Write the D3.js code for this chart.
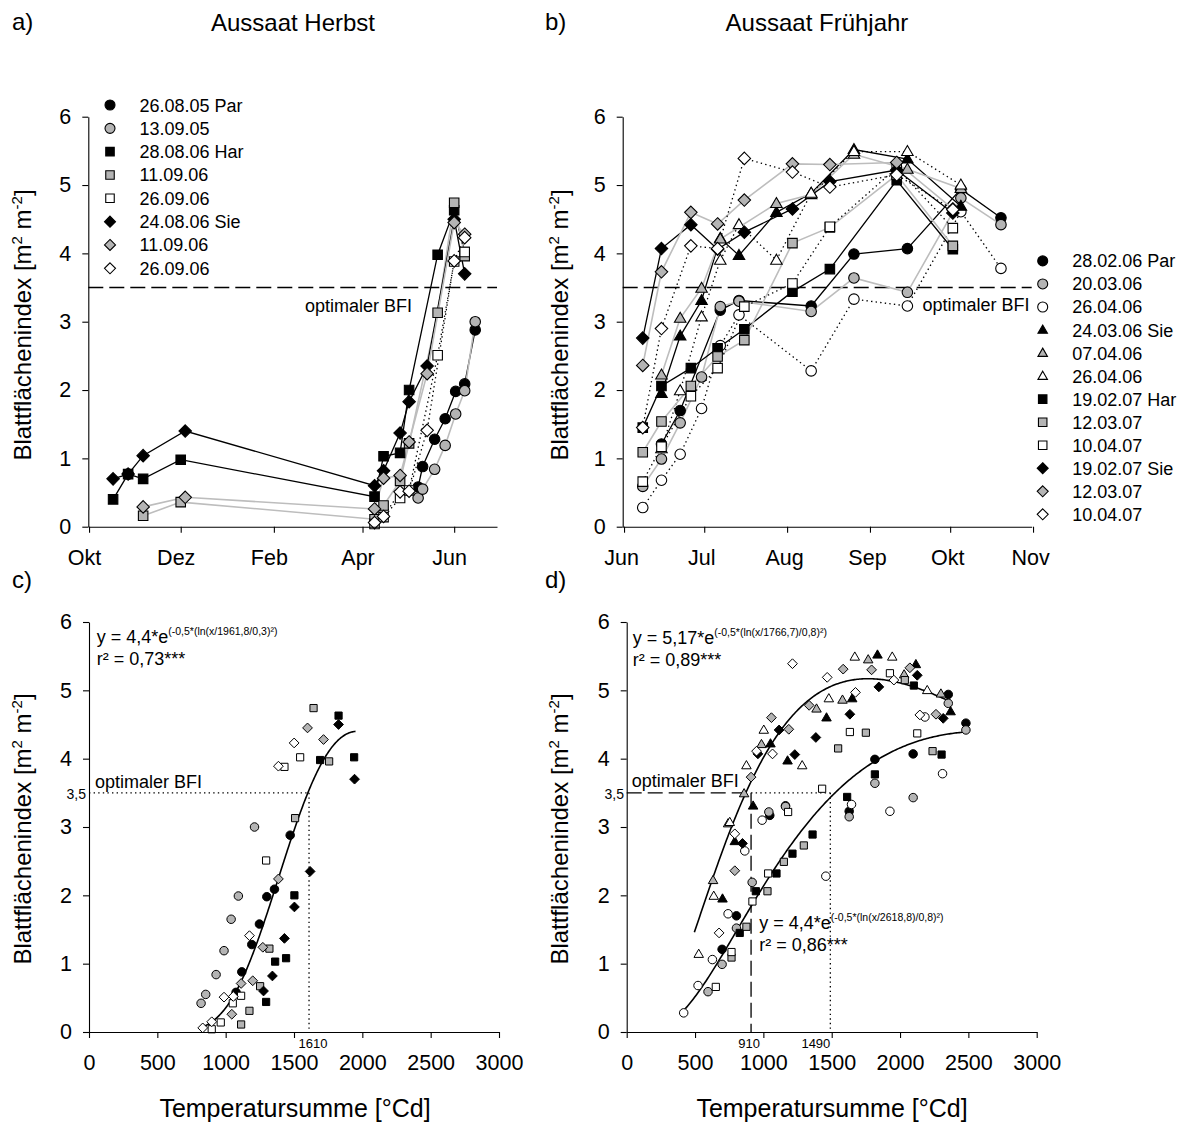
<!DOCTYPE html>
<html>
<head>
<meta charset="utf-8">
<script src="https://cdn.jsdelivr.net/npm/d3@7"></script>
<style>
  body { margin: 0; background: #fff; }
  svg { display: block; }
</style>
</head>
<body>
<svg id="chart" width="1183" height="1124"></svg>
<script>
// ---------- Herbstaussaat (a: Zeitverlauf, c: Temperatursumme) ----------
const herbstLabels = ["26.08.05 Par", "13.09.05", "28.08.06 Har", "11.09.06", "26.09.06", "24.08.06 Sie", "11.09.06", "26.09.06"];
const herbstShape  = ["circle", "circle", "square", "square", "square", "diamond", "diamond", "diamond"];
const herbstTone   = ["black", "gray", "black", "gray", "white", "black", "gray", "white"];
// Messtermine (MM-DD); null trennt nicht verbundene Abschnitte
const herbstDates = [
  ["10-27", null, "05-08", "05-11", "05-19", "05-26", "06-02", "06-08", "06-15"],
  ["05-08", "05-11", "05-19", "05-26", "06-02", "06-08", "06-15"],
  ["10-17", "10-27", "11-06", "12-01", "04-09", "04-15", "04-26", "05-02", "05-21", "06-01", "06-08"],
  ["11-06", "12-01", "04-09", "04-15", "04-26", "05-02", "05-21", "06-01", "06-08"],
  ["04-09", "04-15", "04-26", "05-02", "05-21", "06-01", "06-08"],
  ["10-17", "10-27", "11-06", "12-04", "04-09", "04-15", "04-26", "05-02", "05-14", "06-01", "06-08"],
  ["11-06", "12-04", "04-09", "04-15", "04-26", "05-02", "05-14", "06-01", "06-08"],
  ["04-09", "04-15", "04-26", "05-02", "05-14", "06-01", "06-08"]
];
const herbstLAI = [
  [0.77, null, 0.58, 0.88, 1.28, 1.58, 1.98, 2.09, 2.88],
  [0.42, 0.55, 0.84, 1.19, 1.65, 1.99, 3.00],
  [0.40, 0.77, 0.70, 0.98, 0.44, 1.03, 1.08, 2.00, 3.98, 4.63, 4.02],
  [0.16, 0.36, 0.11, 0.31, 0.67, 1.22, 3.13, 4.74, 3.96],
  [0.04, 0.14, 0.42, 0.53, 2.51, 3.88, 4.02],
  [0.70, 0.77, 1.04, 1.40, 0.60, 0.82, 1.37, 1.83, 2.35, 4.50, 3.70],
  [0.29, 0.43, 0.26, 0.71, 0.75, 1.24, 2.24, 4.45, 4.28],
  [0.06, 0.15, 0.51, 0.52, 1.41, 3.89, 4.23]
];
const herbstTsum = [
  [null, null, 1076, 1118, 1191, 1247, 1301, 1357, 1472],
  [820, 854, 930, 988, 1040, 1093, 1211],
  [null, null, null, null, 1296, 1362, 1442, 1503, 1691, 1826, 1940],
  [null, null, 1113, 1174, 1252, 1320, 1508, 1643, 1757],
  [898, 964, 1052, 1113, 1296, 1430, 1545],
  [null, null, null, null, 1277, 1342, 1430, 1503, 1618, 1826, 1943],
  [null, null, 1045, 1113, 1198, 1272, 1386, 1599, 1716],
  [832, 898, 988, 1056, 1174, 1386, 1501]
];

// ---------- Frühjahrsaussaat (b: Zeitverlauf, d: Temperatursumme) ----------
const fruehLabels = ["28.02.06 Par", "20.03.06", "26.04.06", "24.03.06 Sie", "07.04.06", "26.04.06",
                     "19.02.07 Har", "12.03.07", "10.04.07", "19.02.07 Sie", "12.03.07", "10.04.07"];
const fruehShape = ["circle", "circle", "circle", "triangle", "triangle", "triangle",
                    "square", "square", "square", "diamond", "diamond", "diamond"];
const fruehTone  = ["black", "gray", "white", "black", "gray", "white",
                    "black", "gray", "white", "black", "gray", "white"];
const termine06  = ["06-08", "06-15", "06-22", "06-30", "07-07", "07-14", "08-10", "08-26", "09-15", "10-05", "10-20"];
const termine06b = ["06-15", "06-22", "06-30", "07-07", "07-14", "07-28", "08-10", "08-26", "09-15", "10-05"];
const termine07  = ["06-08", "06-15", "06-26", "07-06", "07-16", "08-03", "08-17", "09-11", "10-02"];
const fruehDates = [
  ["06-15", "06-22", "07-07", "07-14", "08-10", "08-26", "09-15", "10-05", "10-20"],
  termine06, termine06,
  termine06b,
  ["06-15", "06-22", "06-30", "07-07", "07-28", "08-10", "08-26", "09-15", "10-05"],
  termine06b,
  termine07, termine07, termine07, termine07, termine07, termine07
];
const fruehLAI = [
  [1.21, 1.70, 3.17, 3.31, 3.23, 3.99, 4.07, 4.94, 4.52],
  [0.59, 0.99, 1.52, 2.19, 3.22, 3.30, 3.15, 3.64, 3.43, 4.81, 4.42],
  [0.28, 0.68, 1.06, 1.73, 2.65, 3.10, 2.28, 3.33, 3.23, 4.61, 3.78],
  [1.95, 2.79, 3.31, 4.22, 3.97, 4.60, 4.88, 5.52, 5.38, 4.69],
  [2.22, 3.05, 3.49, 4.21, 4.73, 4.86, 5.45, 5.23, 4.95],
  [1.14, 1.99, 3.07, 3.90, 4.42, 3.90, 4.88, 5.49, 5.49, 5.00],
  [1.45, 2.06, 2.32, 2.61, 2.89, 3.44, 3.77, 5.07, 4.06],
  [1.09, 1.54, 2.06, 2.49, 2.73, 4.15, 4.38, 5.15, 4.11],
  [0.66, 1.17, 1.91, 2.32, 3.22, 3.56, 4.39, 5.25, 4.37],
  [2.76, 4.07, 4.42, 4.06, 4.31, 4.65, 5.05, 5.22, 4.59],
  [2.36, 3.73, 4.60, 4.43, 4.78, 5.31, 5.30, 5.33, 4.65],
  [1.45, 2.90, 4.11, 4.07, 5.39, 5.19, 4.97, 5.15, 4.64]
];
const fruehTsum = [
  [698, 803, 1047, 1162, 1628, 1816, 2096, 2353, 2482],
  [595, 698, 803, 918, 1040, 1162, 1628, 1816, 2096, 2353, 2482],
  [417, 522, 627, 742, 864, 991, 1457, 1645, 1926, 2182, 2311],
  [701, 791, 925, 1052, 1177, 1462, 1650, 1835, 2116, 2370],
  [632, 742, 859, 986, 1389, 1579, 1767, 2030, 2299],
  [527, 637, 754, 876, 1003, 1284, 1479, 1669, 1943, 2199],
  [827, 945, 1096, 1213, 1360, 1613, 1816, 2101, 2304],
  [767, 876, 1030, 1150, 1296, 1547, 1750, 2035, 2238],
  [652, 767, 920, 1035, 1181, 1430, 1633, 1926, 2126],
  [847, 960, 1115, 1230, 1384, 1633, 1845, 2126, 2316],
  [791, 910, 1059, 1186, 1335, 1584, 1792, 2072, 2263],
  [676, 791, 950, 1067, 1213, 1467, 1674, 1955, 2145]
];

// Achsen
const monthTicksA = ["10-01", "12-01", "02-01", "04-01", "06-01"];
const monthNamesA = ["Okt", "Dez", "Feb", "Apr", "Jun"];
const monthTicksB = ["06-01", "07-01", "08-01", "09-01", "10-01", "11-01"];
const monthNamesB = ["Jun", "Jul", "Aug", "Sep", "Okt", "Nov"];
const laiTicks = [0, 1, 2, 3, 4, 5, 6];
const tsumTicks = [0, 500, 1000, 1500, 2000, 2500, 3000];

// Optimaler Blattflächenindex und Schwellen-Temperatursummen
const optLAI = 3.5;
const tsumOptHerbst = 1610;
const tsumOptFrueh = [910, 1490];

// Anpassungskurven: y = a * exp(-0.5 * (ln(x/x0)/b)^2)
const fitHerbst = { a: 4.4, x0: 1961.8, b: 0.3, from: 830, to: 1950 };
const fitFrueh1 = { a: 5.17, x0: 1766.7, b: 0.8, from: 495, to: 2370 };
const fitFrueh2 = { a: 4.4, x0: 2618.8, b: 0.8, from: 415, to: 2485 };

// ---------- Darstellung ----------
const FONT = '"Liberation Sans", Arial, Helvetica, sans-serif';
const GRAY_FILL = "#b4b4b4";
const GRAY_LINE = "#bdbdbd";
const svg = d3.select("#chart").attr("font-family", FONT);

const parseA = s => { if (!s) return null; const [m, d] = s.split("-").map(Number); return new Date(m >= 8 ? 2000 : 2001, m - 1, d, 12); };
const parseB = s => { const [m, d] = s.split("-").map(Number); return new Date(2001, m - 1, d, 12); };
const fillOf = t => t === "black" ? "#000" : t === "gray" ? GRAY_FILL : "#fff";

function shapePath(shape, s) {
  const r = s / 2;
  if (shape === "circle") return d3.symbol(d3.symbolCircle, Math.PI * r * r)();
  if (shape === "square") return `M${-r},${-r}h${s}v${s}h${-s}Z`;
  if (shape === "diamond") { const h = r * 1.25; return `M0,${-h}L${h},0L0,${h}L${-h},0Z`; }
  const hh = s * 0.866;
  return `M0,${-hh * 0.6}L${r},${hh * 0.4}L${-r},${hh * 0.4}Z`;
}
const sizeBig   = { circle: 10.5, square: 9.5, diamond: 10, triangle: 11.5 };
const sizeSmall = { circle: 8.5, square: 7.2, diamond: 7.8, triangle: 9.5 };
const sizeLeg   = { circle: 10, square: 8.5, diamond: 8.8, triangle: 9.5 };

function lineStyle(sel, tone) {
  if (tone === "black") sel.attr("stroke", "#000").attr("stroke-width", 1.3);
  else if (tone === "gray") sel.attr("stroke", GRAY_LINE).attr("stroke-width", 1.6);
  else sel.attr("stroke", "#000").attr("stroke-width", 1.3).attr("stroke-dasharray", "1.4,3.2");
}

// Scales
const xA = d3.scaleTime().domain([new Date(2000, 9, 1), new Date(2001, 5, 30)]).range([88.3, 497]);
const xB = d3.scaleTime().domain([new Date(2001, 5, 1), new Date(2001, 10, 1)]).range([622.7, 1031.7]);
const yTop = d3.scaleLinear().domain([0, 6]).range([526.7, 116.7]);
const xC = d3.scaleLinear().domain([0, 3000]).range([89, 499]);
const xD = d3.scaleLinear().domain([0, 3000]).range([626.7, 1036.7]);
const yBot = d3.scaleLinear().domain([0, 6]).range([1032, 622]);

function styleAxis(g, fs) {
  g.attr("font-size", fs).attr("font-family", FONT);
  g.selectAll("path.domain").attr("stroke", "#000").attr("stroke-width", 1.1);
  g.selectAll(".tick line").attr("stroke", "#000").attr("stroke-width", 1.1);
  g.selectAll(".tick text").attr("fill", "#000");
}
function leftAxis(x0, y) {
  const g = svg.append("g").attr("transform", `translate(${x0},0)`)
    .call(d3.axisLeft(y).tickValues(laiTicks).tickFormat(d3.format("d")).tickSize(6).tickSizeOuter(0).tickPadding(11));
  styleAxis(g, 21.5);
}
function bottomAxis(y0, x, vals, fmt, pad, dx) {
  const g = svg.append("g").attr("transform", `translate(0,${y0})`)
    .call(d3.axisBottom(x).tickValues(vals).tickFormat(fmt).tickSize(6).tickSizeOuter(0).tickPadding(pad));
  styleAxis(g, 21.5);
  g.selectAll(".tick text").attr("dx", dx);
}

// Datensätze je Serie aufbauen
function seriesA(i) {
  return herbstDates[i].map((d, j) => ({ date: parseA(d), v: herbstLAI[i][j], t: herbstTsum[i][j] }));
}
function seriesB(i) {
  return fruehDates[i].map((d, j) => ({ date: parseB(d), v: fruehLAI[i][j], t: fruehTsum[i][j] }));
}

function drawTimePanel(x, y, n, getSeries, shapes, tones) {
  const line = d3.line().defined(d => d.v != null).x(d => x(d.date)).y(d => y(d.v));
  const all = d3.range(n).map(getSeries);
  const gl = svg.append("g");
  all.forEach((s, i) => {
    gl.append("path").datum(s).attr("d", line).attr("fill", "none").call(lineStyle, tones[i]);
  });
  const gp = svg.append("g");
  all.forEach((s, i) => {
    gp.selectAll(null).data(s.filter(d => d.v != null)).join("path")
      .attr("transform", d => `translate(${x(d.date)},${y(d.v)})`)
      .attr("d", shapePath(shapes[i], sizeBig[shapes[i]]))
      .attr("fill", fillOf(tones[i])).attr("stroke", "#000").attr("stroke-width", 1.1);
  });
}

function drawScatter(x, y, n, getSeries, shapes, tones) {
  const gp = svg.append("g");
  d3.range(n).forEach(i => {
    gp.selectAll(null).data(getSeries(i).filter(d => d.t != null && d.v != null)).join("path")
      .attr("transform", d => `translate(${x(d.t)},${y(d.v)})`)
      .attr("d", shapePath(shapes[i], sizeSmall[shapes[i]]))
      .attr("fill", fillOf(tones[i])).attr("stroke", "#000").attr("stroke-width", 1);
  });
}

function drawFit(x, y, f) {
  const pts = d3.range(0, 201).map(k => {
    const t = f.from + (f.to - f.from) * k / 200;
    return [t, f.a * Math.exp(-0.5 * Math.pow(Math.log(t / f.x0) / f.b, 2))];
  });
  svg.append("path").datum(pts)
    .attr("d", d3.line().x(d => x(d[0])).y(d => y(d[1])))
    .attr("fill", "none").attr("stroke", "#000").attr("stroke-width", 1.6);
}

function legend(x0, y0, step, labels, shapes, tones) {
  const g = svg.append("g");
  labels.forEach((lab, i) => {
    const yy = y0 + i * step;
    g.append("path").attr("transform", `translate(${x0},${yy})`)
      .attr("d", shapePath(shapes[i], sizeLeg[shapes[i]]))
      .attr("fill", fillOf(tones[i])).attr("stroke", "#000").attr("stroke-width", 1.1);
    g.append("text").attr("x", x0 + 29.5).attr("y", yy + 6.5).attr("font-size", 18).text(lab);
  });
}

function yTitle(xb, yc) {
  const t = svg.append("text").attr("transform", `translate(${xb},${yc}) rotate(-90)`)
    .attr("text-anchor", "middle").attr("font-size", 24);
  t.append("tspan").text("Blattflächenindex [m");
  t.append("tspan").attr("font-size", 15).attr("dy", -9).text("2");
  t.append("tspan").attr("dy", 9).text(" m");
  t.append("tspan").attr("font-size", 15).attr("dy", -9).text("-2");
  t.append("tspan").attr("dy", 9).text("]");
}

function equation(x0, yb, main, sup, r2) {
  const t = svg.append("text").attr("x", x0).attr("y", yb).attr("font-size", 18);
  t.append("tspan").text(main);
  t.append("tspan").attr("font-size", 10.5).attr("dy", -8).text(sup);
  svg.append("text").attr("x", x0).attr("y", yb + 22).attr("font-size", 18).text(r2);
}

function txt(x0, y0, s, fs, anchor) {
  return svg.append("text").attr("x", x0).attr("y", y0).attr("font-size", fs)
    .attr("text-anchor", anchor || "start").text(s);
}

// ---------- Panel a ----------
svg.append("line").attr("x1", xA.range()[0]).attr("x2", xA.range()[1])
  .attr("y1", yTop(optLAI)).attr("y2", yTop(optLAI))
  .attr("stroke", "#000").attr("stroke-width", 1.4).attr("stroke-dasharray", "15,6");
drawTimePanel(xA, yTop, herbstLabels.length, seriesA, herbstShape, herbstTone);
leftAxis(xA.range()[0], yTop);
bottomAxis(yTop.range()[0], xA, monthTicksA.map(parseA), (d, i) => monthNamesA[i], 17, -5);
legend(110, 105, 23.33, herbstLabels, herbstShape, herbstTone);
txt(305, 312, "optimaler BFI", 18);

// ---------- Panel b ----------
svg.append("line").attr("x1", xB.range()[0]).attr("x2", xB.range()[1])
  .attr("y1", yTop(optLAI)).attr("y2", yTop(optLAI))
  .attr("stroke", "#000").attr("stroke-width", 1.4).attr("stroke-dasharray", "15,6");
drawTimePanel(xB, yTop, fruehLabels.length, seriesB, fruehShape, fruehTone);
leftAxis(xB.range()[0], yTop);
bottomAxis(yTop.range()[0], xB, monthTicksB.map(parseB), (d, i) => monthNamesB[i], 17, -3);
legend(1042.7, 260.9, 23.04, fruehLabels, fruehShape, fruehTone);
txt(922.5, 311, "optimaler BFI", 18);

// ---------- Panel c ----------
const refC = svg.append("g").attr("stroke", "#000").attr("stroke-width", 1.3).attr("stroke-dasharray", "1.4,3.2");
refC.append("line").attr("x1", xC(0)).attr("x2", xC(tsumOptHerbst)).attr("y1", yBot(optLAI)).attr("y2", yBot(optLAI));
refC.append("line").attr("x1", xC(tsumOptHerbst)).attr("x2", xC(tsumOptHerbst)).attr("y1", yBot(optLAI)).attr("y2", yBot(0));
drawFit(xC, yBot, fitHerbst);
drawScatter(xC, yBot, herbstLabels.length, seriesA, herbstShape, herbstTone);
leftAxis(xC.range()[0], yBot);
bottomAxis(yBot.range()[0], xC, tsumTicks, d3.format("d"), 17, 0);
equation(96.7, 643, "y = 4,4*e", "(-0,5*(ln(x/1961,8/0,3)²)", "r² = 0,73***");
txt(95, 788, "optimaler BFI", 18);
txt(86, 799, "3,5", 14, "end");
txt(xC(tsumOptHerbst) + 4, 1048, String(tsumOptHerbst), 13, "middle");

// ---------- Panel d ----------
const refD = svg.append("g").attr("stroke", "#000").attr("stroke-width", 1.3);
refD.append("line").attr("x1", xD(0)).attr("x2", xD(tsumOptFrueh[0])).attr("y1", yBot(optLAI)).attr("y2", yBot(optLAI))
  .attr("stroke-dasharray", "15,6");
refD.append("line").attr("x1", xD(tsumOptFrueh[0])).attr("x2", xD(tsumOptFrueh[1])).attr("y1", yBot(optLAI)).attr("y2", yBot(optLAI))
  .attr("stroke-dasharray", "1.4,3.2");
refD.append("line").attr("x1", xD(tsumOptFrueh[0])).attr("x2", xD(tsumOptFrueh[0])).attr("y1", yBot(optLAI)).attr("y2", yBot(0))
  .attr("stroke-dasharray", "15,6");
refD.append("line").attr("x1", xD(tsumOptFrueh[1])).attr("x2", xD(tsumOptFrueh[1])).attr("y1", yBot(optLAI)).attr("y2", yBot(0))
  .attr("stroke-dasharray", "1.4,3.2");
drawFit(xD, yBot, fitFrueh1);
drawFit(xD, yBot, fitFrueh2);
drawScatter(xD, yBot, fruehLabels.length, seriesB, fruehShape, fruehTone);
leftAxis(xD.range()[0], yBot);
bottomAxis(yBot.range()[0], xD, tsumTicks, d3.format("d"), 17, 0);
equation(632.7, 644, "y = 5,17*e", "(-0,5*(ln(x/1766,7)/0,8)²)", "r² = 0,89***");
equation(759.3, 929, "y = 4,4*e", "(-0,5*(ln(x/2618,8)/0,8)²)", "r² = 0,86***");
txt(631.7, 787, "optimaler BFI", 18);
txt(624, 799, "3,5", 14, "end");
txt(xD(tsumOptFrueh[0]) - 2, 1048, String(tsumOptFrueh[0]), 13, "middle");
txt(xD(tsumOptFrueh[1]), 1048, String(tsumOptFrueh[1]), 13, "end");

// ---------- Titel und Achsenbeschriftungen ----------
txt(12, 30, "a)", 24);
txt(293, 31, "Aussaat Herbst", 24, "middle");
txt(545, 30, "b)", 24);
txt(817, 31, "Aussaat Frühjahr", 24, "middle");
txt(12, 588, "c)", 24);
txt(545, 588, "d)", 24);
yTitle(31, 325);
yTitle(568, 325);
yTitle(31, 829);
yTitle(568, 829);
txt(295, 1117, "Temperatursumme [°Cd]", 25, "middle");
txt(832, 1117, "Temperatursumme [°Cd]", 25, "middle");
</script>
</body>
</html>
